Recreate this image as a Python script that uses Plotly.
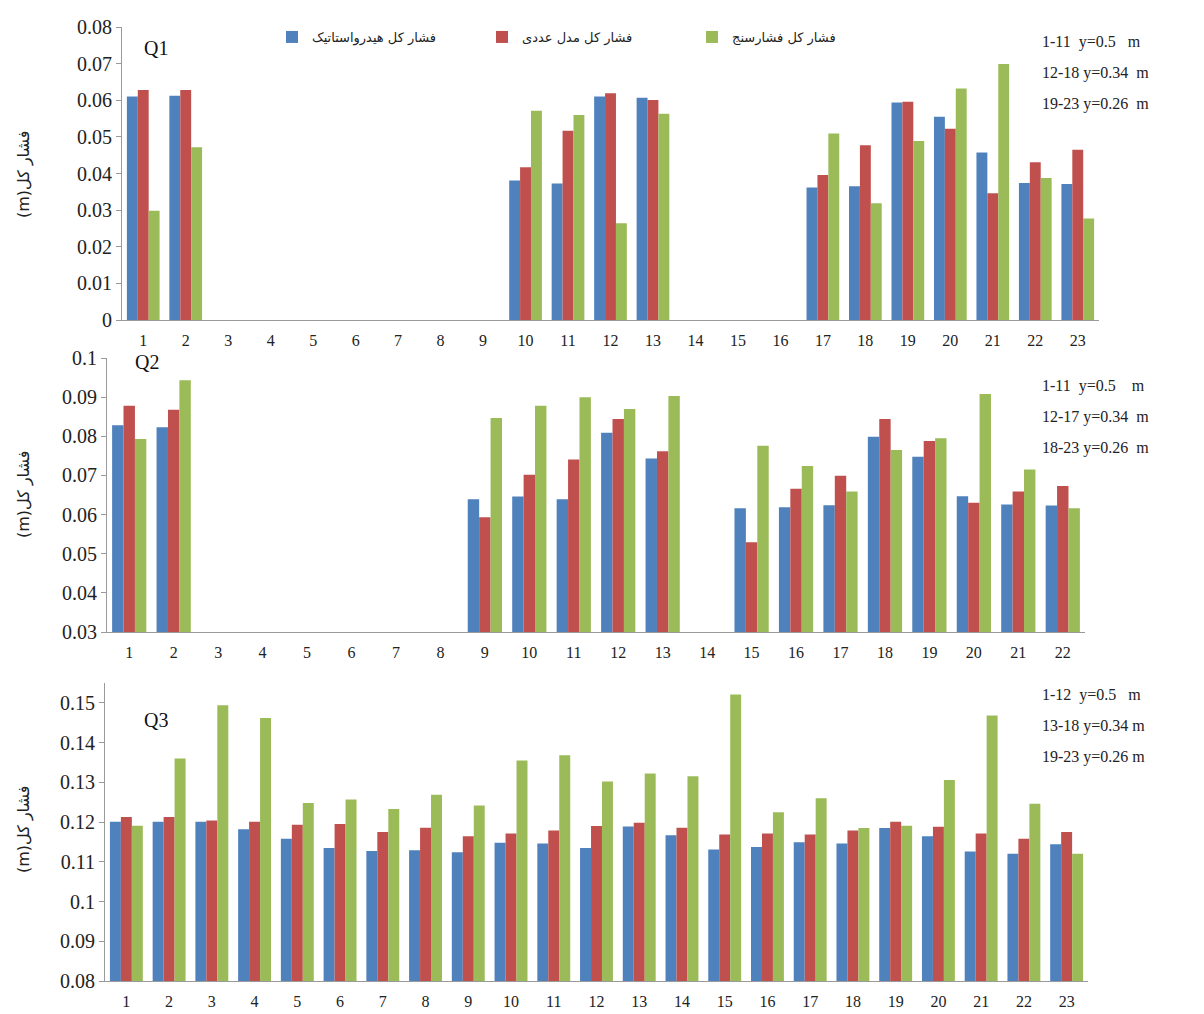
import plotly.graph_objects as go

W, H = 1204, 1014

# Series (legend order) and their colours
series_names = ["فشار کل هیدرواستاتیک", "فشار کل مدل عددی", "فشار کل فشارسنج"]
series_colors = ["#4F81BD", "#C0504D", "#9BBB59"]

N = None

# ---- Q1 ----
q1_cats = [str(i) for i in range(1, 24)]
q1_hydro = [0.0610, 0.0612, N, N, N, N, N, N, N, 0.0381, 0.0373, 0.0610, 0.0607,
            N, N, N, 0.0362, 0.0365, 0.0594, 0.0555, 0.0457, 0.0374, 0.0371]
q1_model = [0.0628, 0.0628, N, N, N, N, N, N, N, 0.0417, 0.0517, 0.0619, 0.0601,
            N, N, N, 0.0396, 0.0477, 0.0596, 0.0522, 0.0346, 0.0431, 0.0465]
q1_gauge = [0.0298, 0.0472, N, N, N, N, N, N, N, 0.0571, 0.0560, 0.0264, 0.0563,
            N, N, N, 0.0509, 0.0319, 0.0489, 0.0632, 0.0699, 0.0388, 0.0277]
q1_notes = ["1-11  y=0.5   m", "12-18 y=0.34  m", "19-23 y=0.26  m"]

# ---- Q2 ----
q2_cats = [str(i) for i in range(1, 23)]
q2_hydro = [0.0828, 0.0823, N, N, N, N, N, N, 0.0639, 0.0646, 0.0639, 0.0809, 0.0743,
            N, 0.0616, 0.0619, 0.0624, 0.0799, 0.0748, 0.0647, 0.0626, 0.0623]
q2_model = [0.0878, 0.0868, N, N, N, N, N, N, 0.0593, 0.0702, 0.0741, 0.0844, 0.0762,
            N, 0.0529, 0.0666, 0.0699, 0.0844, 0.0788, 0.0630, 0.0659, 0.0673]
q2_gauge = [0.0793, 0.0943, N, N, N, N, N, N, 0.0847, 0.0878, 0.0900, 0.0870, 0.0903,
            N, 0.0776, 0.0724, 0.0659, 0.0765, 0.0795, 0.0908, 0.0715, 0.0616]
q2_notes = ["1-11  y=0.5    m", "12-17 y=0.34  m", "18-23 y=0.26  m"]

# ---- Q3 ----
q3_cats = [str(i) for i in range(1, 24)]
q3_hydro = [0.1201, 0.1201, 0.1201, 0.1182, 0.1158, 0.1135, 0.1127, 0.1129, 0.1124,
            0.1148, 0.1146, 0.1135, 0.1189, 0.1167, 0.1131, 0.1137, 0.1149, 0.1146,
            0.1185, 0.1164, 0.1126, 0.1120, 0.1144]
q3_model = [0.1213, 0.1213, 0.1204, 0.1201, 0.1193, 0.1195, 0.1175, 0.1186, 0.1164,
            0.1171, 0.1179, 0.1190, 0.1198, 0.1186, 0.1169, 0.1171, 0.1169, 0.1179,
            0.1201, 0.1188, 0.1171, 0.1158, 0.1175]
q3_gauge = [0.1191, 0.1360, 0.1494, 0.1462, 0.1248, 0.1257, 0.1233, 0.1269, 0.1242,
            0.1355, 0.1368, 0.1302, 0.1322, 0.1315, 0.1521, 0.1225, 0.1260, 0.1185,
            0.1191, 0.1306, 0.1468, 0.1246, 0.1120]
q3_notes = ["1-12  y=0.5   m", "13-18 y=0.34 m", "19-23 y=0.26 m"]

y_title = "(m)فشار کل"

panels = [
    dict(name="Q1", cats=q1_cats, data=[q1_hydro, q1_model, q1_gauge], notes=q1_notes,
         yrange=[0, 0.08], px_x=(122, 1099), px_y=(27, 320),
         name_px=(142, 48), notes_px=(1040, 42), title_py=175),
    dict(name="Q2", cats=q2_cats, data=[q2_hydro, q2_model, q2_gauge], notes=q2_notes,
         yrange=[0.03, 0.1], px_x=(107, 1085), px_y=(358, 632),
         name_px=(133, 362), notes_px=(1040, 386), title_py=495),
    dict(name="Q3", cats=q3_cats, data=[q3_hydro, q3_model, q3_gauge], notes=q3_notes,
         yrange=[0.08, 0.155], px_x=(105, 1088), px_y=(683, 981),
         name_px=(142, 720), notes_px=(1040, 695), title_py=830),
]


def px_to_paper_x(px):
    return px / W


def px_to_paper_y(py):
    return 1 - py / H


fig = go.Figure()
serif = "Liberation Serif, Times New Roman, serif"
annotations = []

for k, p in enumerate(panels):
    suffix = "" if k == 0 else str(k + 1)
    xa, ya = "x" + suffix, "y" + suffix
    for s, (vals, nm, col) in enumerate(zip(p["data"], series_names, series_colors)):
        fig.add_trace(go.Bar(
            x=p["cats"], y=vals, name=nm, marker=dict(color=col, line=dict(width=0)),
            xaxis=xa, yaxis=ya, legendgroup=nm, showlegend=(k == 0),
            offsetgroup=str(s),
        ))
    x0, x1 = p["px_x"]
    yt, yb = p["px_y"]
    fig.update_layout(**{
        "xaxis" + suffix: dict(
            domain=[px_to_paper_x(x0), px_to_paper_x(x1)], anchor=ya,
            type="category", showline=True, linecolor="#9a9a9a", linewidth=1,
            ticks="", showgrid=False, zeroline=False, ticklabelstandoff=6,
            tickfont=dict(family=serif, size=16, color="#222"),
            automargin=False,
        ),
        "yaxis" + suffix: dict(
            domain=[px_to_paper_y(yb), px_to_paper_y(yt)], anchor=xa,
            range=p["yrange"], dtick=0.01, tick0=0,
            showline=True, linecolor="#9a9a9a", linewidth=1,
            ticks="outside", ticklen=5, tickcolor="#9a9a9a",
            showgrid=False, zeroline=False,
            tickfont=dict(family=serif, size=20, color="#222"),
            automargin=False,
        ),
    })
    # panel name
    annotations.append(dict(
        text=p["name"], x=px_to_paper_x(p["name_px"][0]), y=px_to_paper_y(p["name_px"][1]),
        xref="paper", yref="paper", xanchor="left", yanchor="middle", showarrow=False,
        font=dict(family=serif, size=20, color="#111"),
    ))
    # elevation notes on the right
    nx, ny = p["notes_px"]
    for i, note in enumerate(p["notes"]):
        annotations.append(dict(
            text=note, x=px_to_paper_x(nx), y=px_to_paper_y(ny + i * 31),
            xref="paper", yref="paper", xanchor="left", yanchor="middle", showarrow=False,
            font=dict(family=serif, size=16, color="#222"),
        ))
    # y-axis title
    annotations.append(dict(
        text=y_title, x=px_to_paper_x(24), y=px_to_paper_y(p["title_py"]),
        xref="paper", yref="paper", xanchor="center", yanchor="middle", showarrow=False,
        textangle=-90, font=dict(family="DejaVu Sans, Noto Sans, sans-serif", size=16, color="#222"),
    ))

fig.update_layout(
    width=W, height=H,
    margin=dict(l=0, r=0, t=0, b=0),
    paper_bgcolor="white", plot_bgcolor="white",
    barmode="group", bargap=0.23, bargroupgap=0,
    showlegend=True,
    legend=dict(
        orientation="h", x=px_to_paper_x(272), y=px_to_paper_y(37),
        xanchor="left", yanchor="middle",
        entrywidth=165, entrywidthmode="pixels",
        font=dict(family="DejaVu Sans, Noto Sans, sans-serif", size=13, color="#222"),
        bgcolor="rgba(0,0,0,0)", itemsizing="constant",
    ),
    annotations=annotations,
)

fig.write_html("out.html")
